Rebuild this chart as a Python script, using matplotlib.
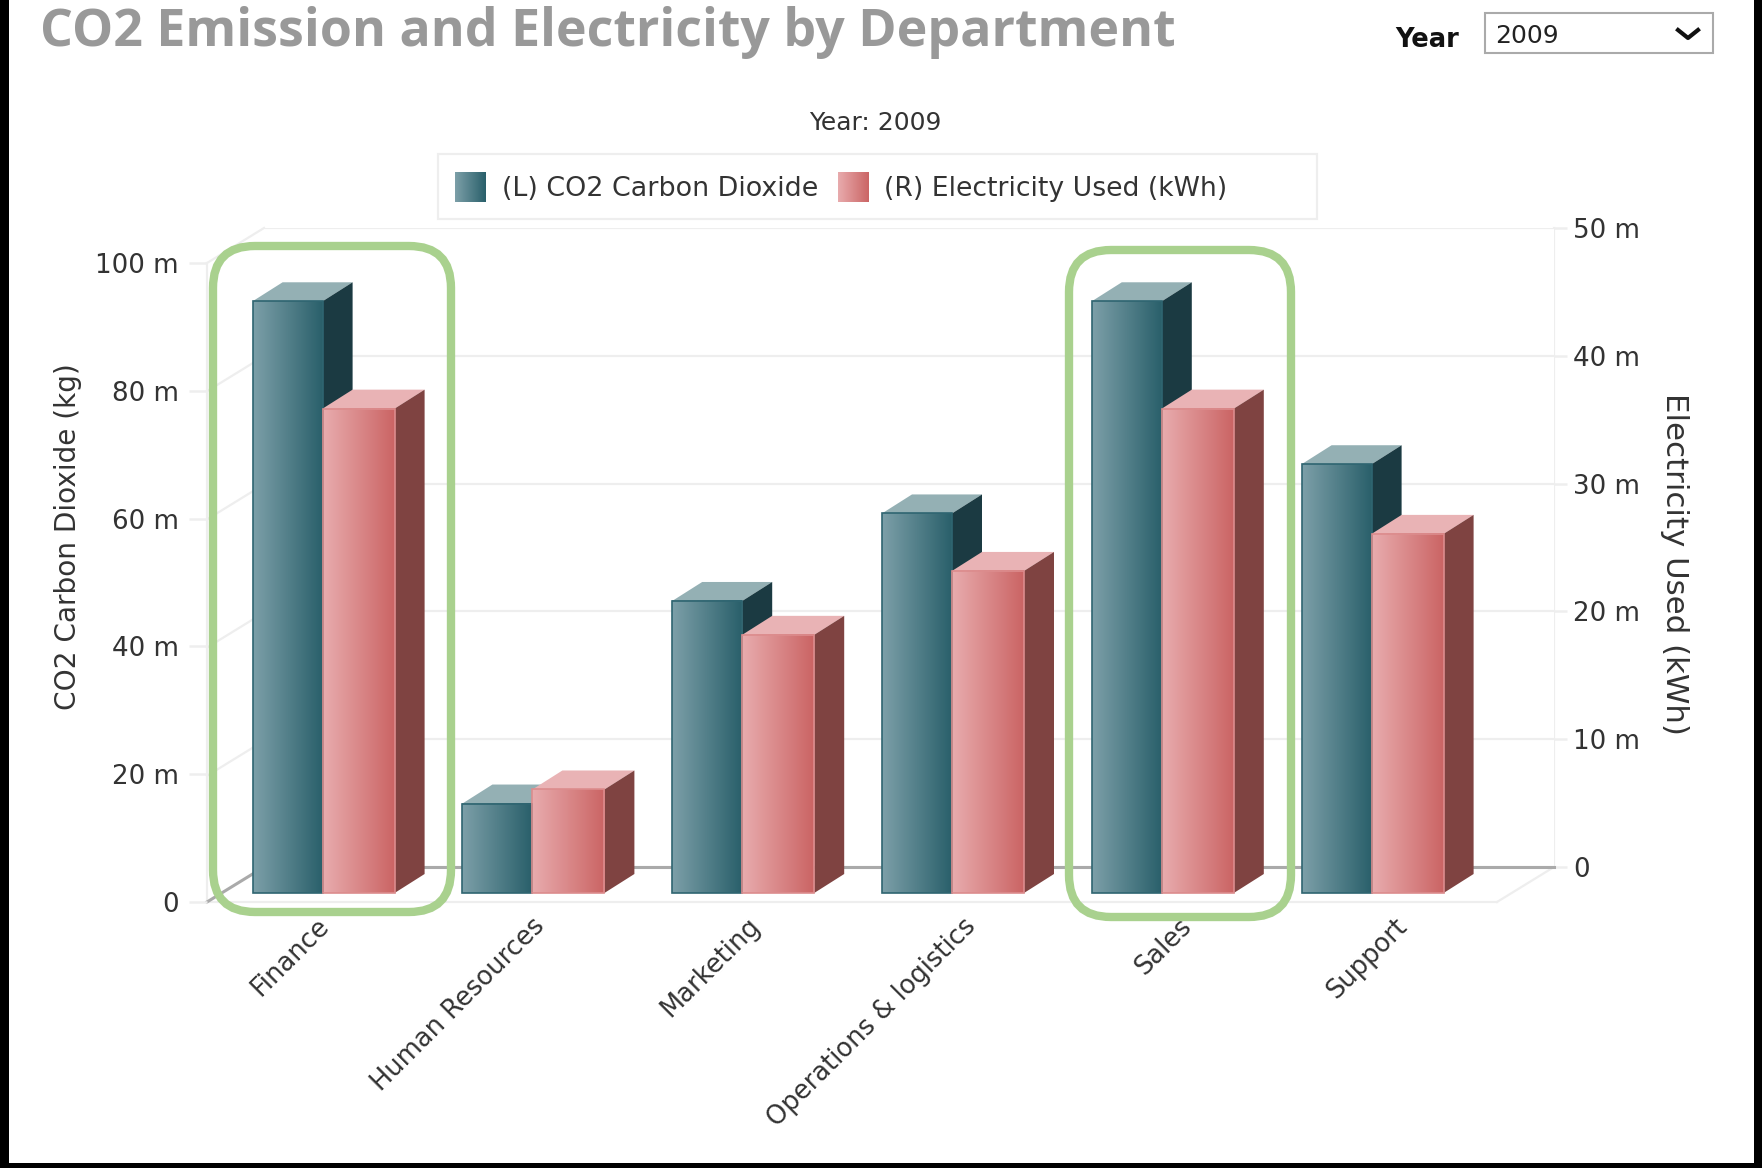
import numpy as np
from matplotlib import pyplot as plt
from matplotlib.colors import LinearSegmentedColormap
from matplotlib.lines import Line2D
from matplotlib.patches import FancyBboxPatch, Polygon, Rectangle
from matplotlib.transforms import Affine2D, IdentityTransform

departments = ["Finance", "Human Resources", "Marketing", "Operations & logistics", "Sales", "Support"]
co2_values = [92.6, 14.0, 45.7, 59.4, 92.6, 67.1]
electricity_values = [37.9, 8.1, 20.2, 25.2, 37.9, 28.1]
left_ticks = [0, 20, 40, 60, 80, 100]
right_ticks = [0, 10, 20, 30, 40, 50]

W, H = 1762, 1168
SLOT = 209.8
CO2_W, EL_W = 70, 72
DEPTH_X, DEPTH_Y = 30, 19
FONT = "DejaVu Sans"
TEXT = "#333333"
GRID = "#eeeeee"

fig = plt.figure(figsize=(W / 100, H / 100), dpi=100, facecolor="white")


def add_axes_px(x0, x1, top, bottom, **kw):
    return fig.add_axes([x0 / W, 1 - bottom / H, (x1 - x0) / W, (bottom - top) / H], **kw)


def line_px(xs, ys, color=GRID, lw=1.6, zorder=0.5):
    fig.add_artist(Line2D(xs, [H - y for y in ys], color=color, lw=lw, zorder=zorder,
                          transform=IdentityTransform()))


def text_px(x, y, s, **kw):
    kw.setdefault("family", FONT)
    kw.setdefault("color", TEXT)
    fig.text(x / W, 1 - y / H, s, **kw)


# back wall carries the right scale and the grid, the front plane the left scale
xlim = ((207 - 308) / SLOT, (1497 - 308) / SLOT)
ax_r = add_axes_px(264, 1554, 228, 867, zorder=1)
ax_l = add_axes_px(207, 1497, 263, 902, zorder=2)
ax_l.patch.set_visible(False)
for a in (ax_l, ax_r):
    for s in a.spines.values():
        s.set_visible(False)
    a.set_xlim(*xlim)
    a.set_xticks([])
ax_l.set_ylim(0, 100)
ax_r.set_ylim(0, 50)

ax_l.set_yticks(left_ticks, [f"{t} m" if t else "0" for t in left_ticks])
ax_r.yaxis.tick_right()
ax_r.set_yticks(right_ticks, [f"{t} m" if t else "0" for t in right_ticks])
ax_l.tick_params(axis="y", length=13, width=1.8, color=GRID, labelcolor=TEXT, labelsize=18.8, pad=7.5)
ax_r.tick_params(axis="y", length=9, width=1.8, color=GRID, labelcolor=TEXT, labelsize=18.8, pad=5)
ax_r.grid(axis="y", color=GRID, lw=1.6)
ax_r.set_axisbelow(True)
ax_r.spines["bottom"].set_visible(True)
ax_r.spines["bottom"].set_color("#aaaaaa")
ax_r.spines["bottom"].set_linewidth(2.2)

# walls and floor
line_px([207, 207], [263, 902])
line_px([1554, 1554], [228, 867])
line_px([207, 1497], [902, 902])
line_px([1497, 1554], [902, 867])
line_px([207, 264], [902, 867], color="#aaaaaa", lw=2.2, zorder=0.6)
for y in np.linspace(263, 775.8, 5):
    line_px([207, 264], [y, y - 35])

teal = LinearSegmentedColormap.from_list("teal", ["#7c9fa8", "#2a606b"])
red = LinearSegmentedColormap.from_list("red", ["#e8abad", "#cb6565"])
grad = np.linspace(0, 1, 64).reshape(1, -1)


def draw_bar(ax, trans, x, width_px, value, cmap, edge, top, side):
    w = width_px / SLOT
    ppu = ax.bbox.height / ax.get_ylim()[1]
    dx, dy = DEPTH_X / SLOT, DEPTH_Y / ppu
    ax_l.add_patch(Polygon([(x, value), (x + w, value), (x + w + dx, value + dy), (x + dx, value + dy)],
                           fc=top, ec="none", transform=trans, clip_on=False))
    ax_l.add_patch(Polygon([(x + w, 0), (x + w + dx, dy), (x + w + dx, value + dy), (x + w, value)],
                           fc=side, ec="none", transform=trans, clip_on=False))
    im = ax_l.imshow(grad, extent=(x, x + w, 0, value), aspect="auto", cmap=cmap,
                     interpolation="bilinear", transform=trans, zorder=1.5)
    im.set_clip_on(False)
    ax_l.add_patch(Rectangle((x, 0), w, value, fc="none", ec=edge, lw=1.2, transform=trans,
                             clip_on=False, zorder=1.6))


trans_l = ax_l.transData + Affine2D().translate(14.6, 9)
trans_r = ax_r.transData + Affine2D().translate(-42.4, -26)
for i in range(len(departments)):
    draw_bar(ax_l, trans_l, i - CO2_W / SLOT, CO2_W, co2_values[i], teal, "#2f6571", "#94b0b4", "#1b3a42")
for i in range(len(departments)):
    draw_bar(ax_r, trans_r, float(i), EL_W, electricity_values[i], red, "#dc8c8d", "#e9b3b5", "#7f4341")
ax_l.set_xlim(*xlim)
ax_l.set_ylim(0, 100)

# category labels sit on the front floor edge
for i, name in enumerate(departments):
    text_px(316 + 215.6 * i, 913, name, rotation=45, rotation_mode="anchor", ha="right", va="top", fontsize=18.5)

text_px(68, 537, "CO2 Carbon Dioxide (kg)", rotation=90, ha="center", va="center", fontsize=20.2)
text_px(1675, 564, "Electricity Used (kWh)", rotation=270, ha="center", va="center", fontsize=22.2)

# header
text_px(40, 46, "CO2 Emission and Electricity by Department", color="#999999", fontsize=37.4,
        fontweight="bold", family="Open Sans", va="baseline")
text_px(1395, 47, "Year", color="#111111", fontsize=18.5, fontweight="bold", va="baseline")
fig.add_artist(Rectangle((1485, H - 53), 228, 40, fc="white", ec="#aaaaaa", lw=1.5, transform=IdentityTransform()))
text_px(1495, 43, "2009", color="#222222", fontsize=18, va="baseline")
line_px([1678, 1688, 1698], [30, 38, 30], color="#111111", lw=3, zorder=4)
text_px(875, 123, "Year: 2009", ha="center", va="center", fontsize=18)

# legend
fig.add_artist(Rectangle((438, H - 219), 879, 65, fc="white", ec=GRID, lw=1.6, transform=IdentityTransform(), zorder=3))
for x0, cmap, label, tx, size in [(455, teal, "(L) CO2 Carbon Dioxide", 502, 19.4),
                                  (838, red, "(R) Electricity Used (kWh)", 884, 19.2)]:
    lg = add_axes_px(x0, x0 + 31, 172, 202, zorder=4)
    lg.imshow(grad, aspect="auto", cmap=cmap, interpolation="bilinear")
    lg.axis("off")
    text_px(tx, 189, label, va="center", fontsize=size, zorder=5)

# green highlights
for x0, x1, y0, y1 in [(213, 451, 246, 912), (1069, 1291, 250, 917)]:
    fig.add_artist(FancyBboxPatch((x0 + 42, H - y1 + 42), x1 - x0 - 84, y1 - y0 - 84,
                                  boxstyle="round,pad=42,rounding_size=42", fc="none", ec="#a9d18e",
                                  lw=6, transform=IdentityTransform(), zorder=6))

# outer screenshot border
for x, y, w, h in [(0, 0, 9, H), (W - 8, 0, 8, H), (0, 0, W, 5)]:
    fig.add_artist(Rectangle((x, y), w, h, fc="black", ec="none", transform=IdentityTransform(), zorder=7))

fig.savefig("out.png", dpi=100)
